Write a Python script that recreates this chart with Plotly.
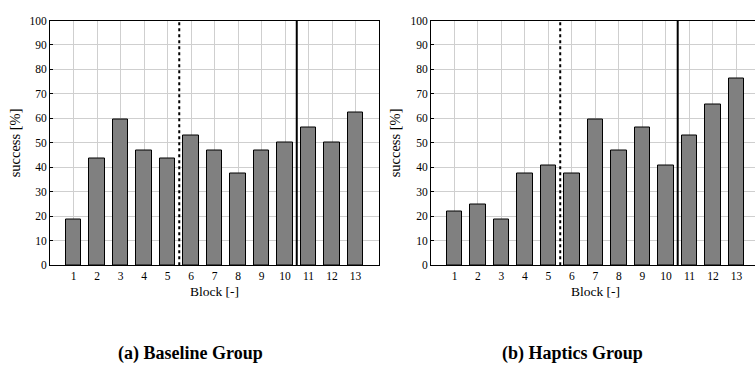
import plotly.graph_objects as go

blocks = list(range(1, 14))
baseline = [18.75, 43.75, 59.375, 46.875, 43.75, 53.125, 46.875, 37.5, 46.875, 50.0, 56.25, 50.0, 62.5]
haptics = [21.875, 25.0, 18.75, 37.5, 40.625, 37.5, 59.375, 46.875, 56.25, 40.625, 53.125, 65.625, 76.5]
captions = ["(a) Baseline Group", "(b) Haptics Group"]
y_ticks = list(range(0, 101, 10))
dotted_at = 5.5
solid_at = 10.5

W, H = 755, 368
def px(x):
    return x / W
def py(y):
    return (H - y) / H

fig = go.Figure()
fig.add_trace(go.Bar(x=blocks, y=baseline, width=0.65, marker=dict(color="#808080", line=dict(color="black", width=1)),
                     xaxis="x", yaxis="y", showlegend=False))
fig.add_trace(go.Bar(x=blocks, y=haptics, width=0.65, marker=dict(color="#808080", line=dict(color="black", width=1)),
                     xaxis="x2", yaxis="y2", showlegend=False))

tickfont = dict(family="Liberation Serif", size=11.5, color="black")
common_x = dict(tickmode="array", tickvals=blocks, ticktext=[str(b) for b in blocks], showgrid=True,
                gridcolor="#cfcfcf", gridwidth=1, showline=True, linecolor="black", linewidth=1,
                ticks="", tickfont=tickfont, zeroline=False, fixedrange=True)
common_y = dict(range=[0, 100], tickmode="array", tickvals=y_ticks, showgrid=True, gridcolor="#cfcfcf",
                gridwidth=1, showline=True, linecolor="black", linewidth=1, ticks="inside", ticklen=3,
                tickcolor="black", tickfont=tickfont, zeroline=False, domain=[py(268), py(15)])

fig.update_layout(
    width=W, height=H, margin=dict(l=0, r=0, t=0, b=0),
    paper_bgcolor="white", plot_bgcolor="white", bargap=0,
    xaxis=dict(common_x, domain=[px(50), px(379)], range=[0, 14], mirror=True, anchor="y"),
    yaxis=dict(common_y, anchor="x", mirror=True),
    xaxis2=dict(common_x, domain=[px(431), 1.0], range=[0, 13.79], mirror=True, anchor="y2"),
    yaxis2=dict(common_y, anchor="x2", mirror=False),
)

for xr, yr in (("x", "y domain"), ("x2", "y2 domain")):
    fig.add_shape(type="line", xref=xr, yref=yr, x0=dotted_at, x1=dotted_at, y0=0, y1=1,
                  line=dict(color="black", width=2, dash="dot"))
    fig.add_shape(type="line", xref=xr, yref=yr, x0=solid_at, x1=solid_at, y0=0, y1=1,
                  line=dict(color="black", width=2))

labfont = dict(family="Liberation Serif", size=13.5, color="black")
for cx in (214.5, 595):
    fig.add_annotation(text="Block [-]", x=px(cx), y=py(295), xref="paper", yref="paper",
                       showarrow=False, font=labfont, xanchor="center", yanchor="middle")
labfont_y = dict(family="Liberation Serif", size=14.5, color="black")
for lx in (15, 395):
    fig.add_annotation(text="success [%]", x=px(lx), y=py(142), xref="paper", yref="paper",
                       showarrow=False, font=labfont_y, textangle=-90, xanchor="center", yanchor="middle")

capfont = dict(family="Liberation Serif", size=18, color="black")
for cx, cap in zip((190, 572), captions):
    fig.add_annotation(text="<b>" + cap + "</b>", x=px(cx), y=py(359), xref="paper", yref="paper",
                       showarrow=False, font=capfont, xanchor="center", yanchor="middle")

fig.write_html("out.html")
